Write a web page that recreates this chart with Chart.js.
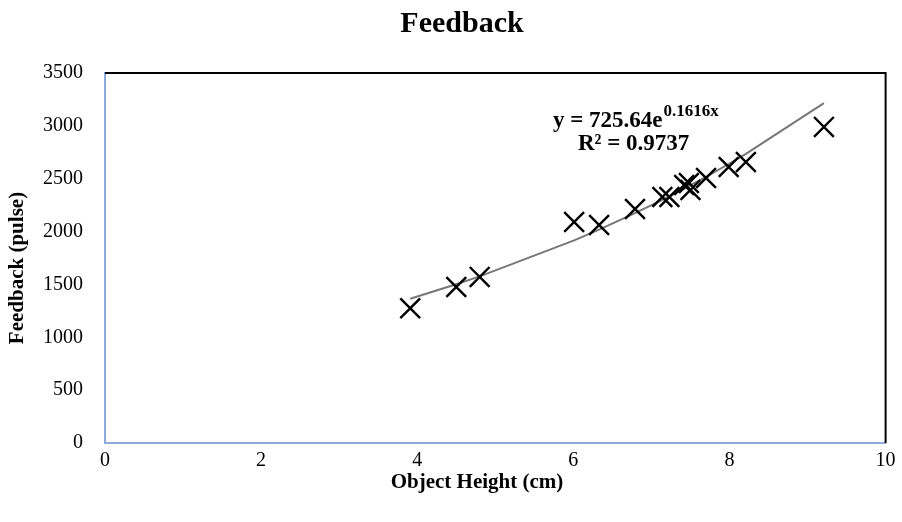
<!DOCTYPE html>
<html>
<head>
<meta charset="utf-8">
<script src="https://cdn.jsdelivr.net/npm/chart.js@4/dist/chart.umd.min.js"></script>
<style>
  html, body { margin: 0; padding: 0; background: #fff; }
  #wrap { width: 902px; height: 522px; }
</style>
</head>
<body>
<div id="wrap"><canvas id="feedbackChart"></canvas></div>
<script>
// datos
var objectHeight = [3.91, 4.50, 4.80, 6.01, 6.33, 6.79, 7.14, 7.23, 7.42, 7.48, 7.50, 7.70, 7.99, 8.21, 9.21];
var feedbackPulse = [1274, 1476, 1571, 2091, 2062, 2214, 2327, 2327, 2441, 2460, 2394, 2507, 2611, 2658, 2990];

// trendline de Excel: y = a * e^(b x)
var trendA = 725.64;
var trendB = 0.1616;
var trendR2 = '0.9737';

var chartTitle = 'Feedback';
var xTitle = 'Object Height (cm)';
var yTitle = 'Feedback (pulse)';

var serif = '"Liberation Serif", "Times New Roman", serif';

// puntos de la linea de tendencia en los mismos x que los datos
var trendX = objectHeight.slice().sort(function (a, b) { return a - b; });
var trendData = trendX.map(function (x) {
    return { x: x, y: trendA * Math.exp(trendB * x) };
});

var scatterData = objectHeight.map(function (x, i) {
    return { x: x, y: feedbackPulse[i] };
});

// titulos, ecuacion y borde superior/derecho
var textPlugin = {
    id: 'textPlugin',
    beforeDatasetsDraw: function (chart) {
        var ctx = chart.ctx;
        var a = chart.chartArea;
        ctx.save();
        ctx.strokeStyle = '#000';
        ctx.lineWidth = 2;
        ctx.beginPath();
        ctx.moveTo(a.left, a.top);
        ctx.lineTo(a.right, a.top);
        ctx.lineTo(a.right, a.bottom);
        ctx.stroke();
        ctx.restore();
    },
    afterDraw: function (chart) {
        var ctx = chart.ctx;
        ctx.save();
        ctx.fillStyle = '#000';
        ctx.textBaseline = 'middle';
        ctx.textAlign = 'center';

        ctx.font = 'bold 30px ' + serif;
        ctx.fillText(chartTitle, 462, 24);

        ctx.font = 'bold 21px ' + serif;
        ctx.fillText(xTitle, 477, 483);

        ctx.save();
        ctx.translate(18, 268);
        ctx.rotate(-Math.PI / 2);
        ctx.fillText(yTitle, 0, 0);
        ctx.restore();

        // ecuacion
        ctx.textAlign = 'left';
        ctx.textBaseline = 'alphabetic';
        ctx.font = 'bold 23px ' + serif;
        var eq = 'y = ' + trendA + 'e';
        ctx.fillText(eq, 553, 127);
        var w = ctx.measureText(eq).width;
        ctx.font = 'bold 17px ' + serif;
        ctx.fillText(trendB + 'x', 553 + w + 1, 116);

        ctx.font = 'bold 23px ' + serif;
        ctx.fillText('R\u00b2 = ' + trendR2, 578, 150);
        ctx.restore();
    }
};

var ctxFeedback = document.getElementById('feedbackChart').getContext('2d');
var feedbackChart = new Chart(ctxFeedback, {
    type: 'scatter',
    data: {
        datasets: [{
            label: 'Feedback',
            data: scatterData,
            pointStyle: 'crossRot',
            pointRadius: 14,
            pointHoverRadius: 14,
            borderColor: '#000',
            backgroundColor: '#000',
            pointBorderWidth: 2.4,
            order: 1
        }, {
            label: 'Trend',
            data: trendData,
            showLine: true,
            pointRadius: 0,
            borderColor: '#777',
            borderWidth: 2,
            tension: 0,
            fill: false,
            order: 2
        }]
    },
    plugins: [textPlugin],
    options: {
        responsive: true,
        maintainAspectRatio: false,
        animation: false,
        layout: {
            padding: { top: 73, right: 15, bottom: 24, left: 0 }
        },
        plugins: {
            legend: { display: false },
            title: { display: false },
            tooltip: { enabled: false }
        },
        scales: {
            x: {
                type: 'linear',
                min: 0,
                max: 10,
                afterFit: function (scale) { scale.height = 55; },
                ticks: {
                    stepSize: 2,
                    color: '#000',
                    padding: 6,
                    font: { family: serif, size: 20 },
                    callback: function (value) { return String(value); }
                },
                grid: { display: false, drawTicks: false },
                border: { display: true, color: '#8faadc', width: 2 }
            },
            y: {
                min: 0,
                max: 3500,
                afterFit: function (scale) { scale.width = 105; },
                ticks: {
                    stepSize: 500,
                    color: '#000',
                    padding: 22,
                    font: { family: serif, size: 20 },
                    callback: function (value) { return String(value); }
                },
                grid: { display: false, drawTicks: false },
                border: { display: true, color: '#8faadc', width: 2 }
            }
        }
    }
});
</script>
</body>
</html>
